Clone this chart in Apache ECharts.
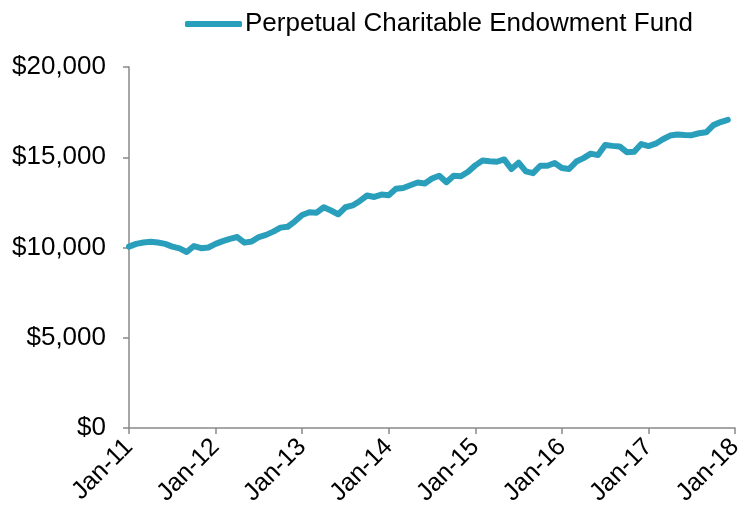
<!DOCTYPE html>
<html>
<head>
<meta charset="utf-8">
<script src="https://cdn.jsdelivr.net/npm/echarts@6/dist/echarts.min.js"></script>
<style>
  html, body { margin: 0; padding: 0; background: #fff; }
  #chart { width: 746px; height: 518px; }
</style>
</head>
<body>
<div id="chart"></div>
<script>
// 月份与年份，用来拼出分类轴标签 (Jan-11 ... Jan-18)
var years = ['11', '12', '13', '14', '15', '16', '17', '18'];
var months = ['Jan', 'Feb', 'Mar', 'Apr', 'May', 'Jun', 'Jul', 'Aug', 'Sep', 'Oct', 'Nov', 'Dec'];

// 基金价值，每月一个点，Jan-11 到 Dec-17
var fundValues = [
    10050, 10200, 10280, 10320, 10280, 10200, 10050, 9950, 9750, 10080, 9960, 10000,
    10200, 10350, 10480, 10580, 10270, 10330, 10580, 10700, 10880, 11100, 11150, 11450,
    11800, 11950, 11930, 12230, 12050, 11840, 12230, 12330, 12580, 12880, 12800, 12930,
    12900, 13250, 13300, 13450, 13600, 13550, 13820, 13980, 13620, 13980, 13950, 14200,
    14550, 14820, 14780, 14750, 14880, 14350, 14700, 14220, 14120, 14530, 14530, 14680,
    14400, 14350, 14760, 14950, 15200, 15120, 15680, 15630, 15600, 15280, 15300, 15730,
    15620, 15750, 16000, 16200, 16260, 16230, 16220, 16330, 16380, 16780, 16950, 17070
];

var seriesName = 'Perpetual Charitable Endowment Fund';

var categories = [];
years.forEach(function (y, i) {
    months.forEach(function (m) {
        if (i < years.length - 1 || m === 'Jan') categories.push(m + '-' + y);
    });
});

var lineColor = '#2A9FBC';
var axisColor = '#898989';
var font = 'Liberation Sans, Arial, sans-serif';

var chart = echarts.init(document.getElementById('chart'));
chart.setOption({
    animation: false,
    legend: {
        left: 180,
        top: 6,
        icon: 'roundRect',
        itemWidth: 57,
        itemHeight: 6,
        itemGap: 4,
        textStyle: {fontFamily: font, fontSize: 26, color: '#000', padding: [0, 0, 0, -2]},
        data: [seriesName]
    },
    grid: {left: 129, right: 5, top: 67, bottom: 90, containLabel: false},
    xAxis: {
        type: 'category',
        boundaryGap: false,
        data: categories,
        axisLine: {lineStyle: {color: axisColor, width: 1.5}},
        axisTick: {interval: 11, length: 6, lineStyle: {color: axisColor, width: 1.5}},
        axisLabel: {
            interval: 11,
            rotate: 45,
            margin: 15,
            fontFamily: font,
            fontSize: 25,
            color: '#000'
        },
        splitLine: {show: false}
    },
    yAxis: {
        type: 'value',
        min: 0,
        max: 20000,
        interval: 5000,
        axisLine: {show: true, lineStyle: {color: axisColor, width: 1.5}},
        axisTick: {show: true, length: 6, lineStyle: {color: axisColor, width: 1.5}},
        axisLabel: {
            margin: 23,
            fontFamily: font,
            fontSize: 26,
            color: '#000',
            formatter: function (v) {
                return '$' + v.toLocaleString('en-US');
            }
        },
        splitLine: {show: false}
    },
    series: [{
        name: seriesName,
        type: 'line',
        data: fundValues,
        showSymbol: false,
        symbol: 'none',
        lineStyle: {color: lineColor, width: 6, cap: 'round', join: 'round'},
        itemStyle: {color: lineColor}
    }]
});
</script>
</body>
</html>
